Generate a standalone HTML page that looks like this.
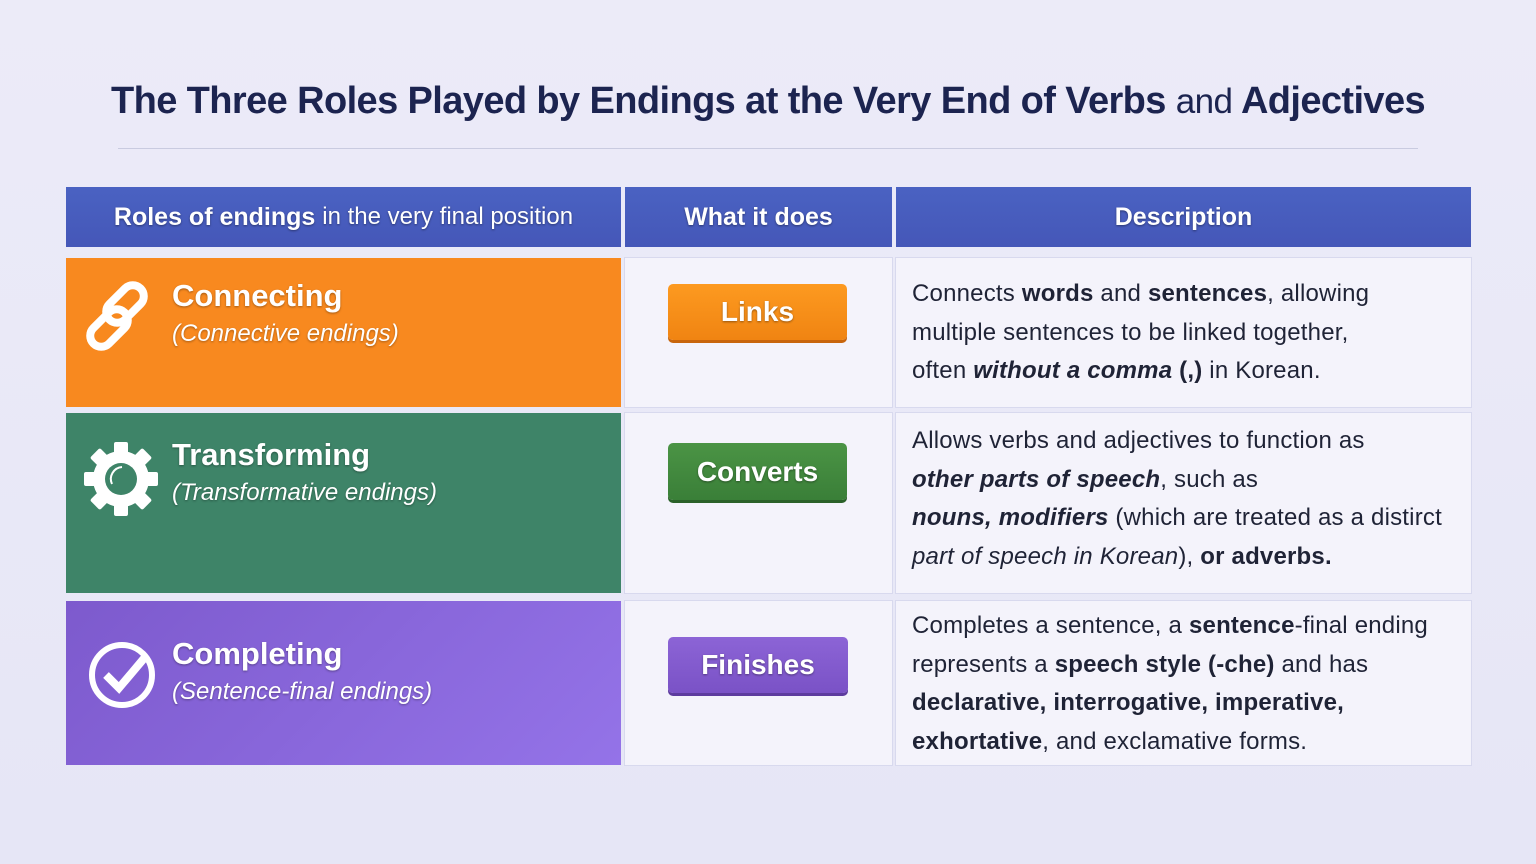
<!DOCTYPE html>
<html><head><meta charset="utf-8"><style>
*{margin:0;padding:0;box-sizing:border-box}
body{width:1536px;height:864px;overflow:hidden;background:linear-gradient(180deg,#ecebf8,#e6e6f6);font-family:"Liberation Sans",sans-serif;position:relative}
.a{position:absolute}
h1{position:absolute;left:0;width:1536px;top:80px;text-align:center;font-size:38px;font-weight:bold;color:#1c2450;font-family:"Liberation Sans",sans-serif;letter-spacing:-0.6px}
h1 span{font-weight:normal;font-size:35px}
.rule{left:118px;top:148px;width:1300px;height:1px;background:#c9cbe0}
.hd{background:linear-gradient(#4a62c2,#4557b8);color:#fff;font-size:25px;font-weight:bold;display:flex;align-items:center;justify-content:center;text-shadow:0 1px 2px rgba(0,0,0,.4)}
.cell{background:#f4f3fb;box-shadow:0 0 0 1px #d8d9ee}
.role{color:#fff;text-shadow:0 1px 2px rgba(0,0,0,.35)}
.role b{display:block;font-size:31px}
.role i{display:block;font-size:24px;margin-top:6px}
.btn{border-radius:5px;color:#fff;font-size:28px;font-weight:bold;display:flex;align-items:center;justify-content:center;text-shadow:0 1px 2px rgba(0,0,0,.4)}
.desc{font-size:24px;color:#1f2336;line-height:38.5px;letter-spacing:0.2px}
</style></head><body>
<h1>The Three Roles Played by Endings at the Very End of Verbs <span>and</span> Adjectives</h1>
<div class="a rule"></div>

<div class="a hd" style="left:66px;top:187px;width:555px;height:60px">Roles of endings&nbsp;<span style="font-weight:normal;font-size:24px">in the very final position</span></div>
<div class="a hd" style="left:625px;top:187px;width:267px;height:60px">What it does</div>
<div class="a hd" style="left:896px;top:187px;width:575px;height:60px">Description</div>

<div class="a" style="left:66px;top:258px;width:555px;height:149px;background:#f8891f"></div>
<div class="a" style="left:66px;top:413px;width:555px;height:180px;background:#3e8468"></div>
<div class="a" style="left:66px;top:601px;width:555px;height:164px;background:linear-gradient(135deg,#7d5acd,#9473e8)"></div>

<div class="a cell" style="left:625px;top:258px;width:267px;height:149px"></div>
<div class="a cell" style="left:896px;top:258px;width:575px;height:149px"></div>
<div class="a cell" style="left:625px;top:413px;width:267px;height:180px"></div>
<div class="a cell" style="left:896px;top:413px;width:575px;height:180px"></div>
<div class="a cell" style="left:625px;top:601px;width:267px;height:164px"></div>
<div class="a cell" style="left:896px;top:601px;width:575px;height:164px"></div>

<svg class="a" style="left:78px;top:276px" width="82" height="80" viewBox="0 0 82 80"><g fill="none" stroke="#fff" stroke-width="8"><rect x="36" y="6" width="22" height="44" rx="11" transform="rotate(45 47 28)"/><rect x="20" y="30" width="22" height="44" rx="11" transform="rotate(45 31 52)"/></g></svg>
<svg class="a" style="left:82px;top:440px" width="78" height="78" viewBox="0 0 78 78"><g fill="#fff"><circle cx="39" cy="39" r="28"/><g id="t"><rect x="32" y="2" width="14" height="14" rx="2"/><rect x="32" y="62" width="14" height="14" rx="2"/></g><use href="#t" transform="rotate(45 39 39)"/><use href="#t" transform="rotate(90 39 39)"/><use href="#t" transform="rotate(135 39 39)"/></g><circle cx="39" cy="39" r="16" fill="#3e8468"/><path d="M30 44 A12 12 0 0 1 40 27" stroke="#fff" stroke-width="2" fill="none"/></svg>
<svg class="a" style="left:86px;top:638px" width="74" height="72" viewBox="0 0 74 72"><circle cx="36" cy="37" r="30" fill="none" stroke="#fff" stroke-width="6"/><path d="M20 37 L33 50 L60 18" fill="none" stroke="#fff" stroke-width="8"/></svg>

<div class="a role" style="left:172px;top:278px"><b>Connecting</b><i>(Connective endings)</i></div>
<div class="a role" style="left:172px;top:437px"><b>Transforming</b><i>(Transformative endings)</i></div>
<div class="a role" style="left:172px;top:636px"><b>Completing</b><i>(Sentence-final endings)</i></div>

<div class="a btn" style="left:668px;top:284px;width:179px;height:56px;background:linear-gradient(#fd9a20,#f08412);box-shadow:0 3px 0 #c8650c">Links</div>
<div class="a btn" style="left:668px;top:443px;width:179px;height:57px;background:linear-gradient(#4b9445,#3a7f38);box-shadow:0 3px 0 #2b6129">Converts</div>
<div class="a btn" style="left:668px;top:637px;width:180px;height:56px;background:linear-gradient(#8c64d6,#7a52c6);box-shadow:0 3px 0 #5d3b9e">Finishes</div>

<div class="a desc" style="left:912px;top:275px">Connects <b>words</b> and <b>sentences</b>, allowing<br>multiple sentences to be linked together,<br>often <b><i>without a comma</i></b> <b>(,)</b> in Korean.</div>
<div class="a desc" style="left:912px;top:422px">Allows verbs and adjectives to function as<br><b><i>other parts of speech</i></b>, such as<br><b><i>nouns, modifiers</i></b> (which are treated as a distirct<br><i>part of speech in Korean</i>), <b>or adverbs.</b></div>
<div class="a desc" style="left:912px;top:607px">Completes a sentence, a <b>sentence</b>-final ending<br>represents a <b>speech style (-che)</b> and has<br><b>declarative, interrogative, imperative,</b><br><b>exhortative</b>, and exclamative forms.</div>
</body></html>
